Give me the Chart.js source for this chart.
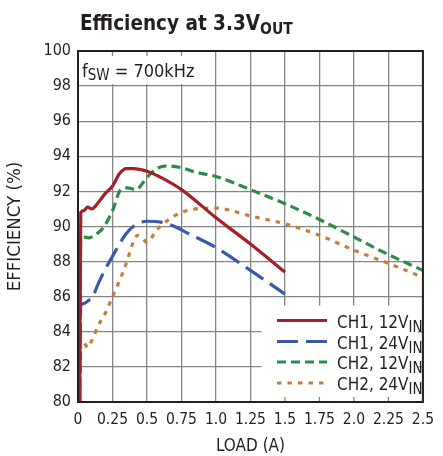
<!DOCTYPE html>
<html>
<head>
<meta charset="utf-8">
<script src="https://cdn.jsdelivr.net/npm/chart.js@4.4.1/dist/chart.umd.min.js"></script>
<style>
  html, body { margin: 0; padding: 0; background: #fff; }
  canvas { display: block; }
</style>
</head>
<body>
<canvas id="chart" width="443" height="456"></canvas>
<script>
// values (load in A, efficiency in %)
const ch1_12vLoad = [0.012, 0.02, 0.04, 0.07, 0.1, 0.15, 0.2, 0.25, 0.3, 0.35, 0.4, 0.5, 0.6, 0.75, 1.0, 1.25, 1.5]
const ch1_12vEff  = [80.0, 90.8, 90.9, 91.1, 91.0, 91.4, 91.9, 92.3, 93.0, 93.3, 93.3, 93.15, 92.8, 92.1, 90.5, 89.0, 87.4]

const ch1_24vLoad = [0.012, 0.02, 0.04, 0.08, 0.1, 0.15, 0.2, 0.25, 0.3, 0.35, 0.4, 0.5, 0.6, 0.7, 0.8, 1.0, 1.25, 1.5]
const ch1_24vEff  = [80.0, 85.5, 85.6, 85.8, 85.9, 86.8, 87.6, 88.3, 89.0, 89.6, 90.0, 90.3, 90.25, 90.0, 89.6, 88.8, 87.5, 86.15]

const ch2_12vLoad = [0.012, 0.02, 0.05, 0.08, 0.12, 0.18, 0.25, 0.31, 0.36, 0.42, 0.5, 0.57, 0.65, 0.75, 0.85, 1.0, 1.25, 1.5, 1.75, 2.0, 2.25, 2.5]
const ch2_12vEff  = [80.0, 89.4, 89.4, 89.35, 89.5, 89.9, 90.9, 92.1, 92.2, 92.1, 92.8, 93.3, 93.45, 93.35, 93.1, 92.85, 92.1, 91.3, 90.4, 89.4, 88.4, 87.5]

const ch2_24vLoad = [0.012, 0.02, 0.04, 0.07, 0.1, 0.15, 0.2, 0.25, 0.3, 0.35, 0.4, 0.43, 0.47, 0.5, 0.57, 0.65, 0.75, 0.85, 1.0, 1.25, 1.5, 1.75, 2.0, 2.25, 2.5]
const ch2_24vEff  = [80.0, 83.3, 83.4, 83.1, 83.5, 84.4, 85.1, 86.0, 86.9, 87.9, 89.1, 89.5, 89.3, 89.1, 89.8, 90.35, 90.8, 91.0, 91.05, 90.6, 90.15, 89.5, 88.65, 87.9, 87.1]

const xTickLabels = ['0', '0.25', '0.5', '0.75', '1.0', '1.25', '1.5', '1.75', '2.0', '2.25', '2.5']
const legendMain = ['CH1, 12V', 'CH1, 24V', 'CH2, 12V', 'CH2, 24V']
const legendSub = 'IN'

const FONT = "'DejaVu Sans Condensed', 'Liberation Sans Narrow', sans-serif"
const INK = '#231f20'
const GRID = '#858585'

function points(xs, ys) {
  return xs.map((x, i) => ({ x: x, y: ys[i] }))
}

// text with a subscript after it, drawn left-aligned from x
function drawSub(ctx, main, sub, x, y, size, subSize, drop, weight) {
  ctx.font = weight + ' ' + size + 'px ' + FONT
  ctx.textAlign = 'left'
  ctx.textBaseline = 'alphabetic'
  ctx.fillText(main, x, y)
  let w = ctx.measureText(main).width
  ctx.font = weight + ' ' + subSize + 'px ' + FONT
  ctx.fillText(sub, x + w, y + drop)
  return w + ctx.measureText(sub).width
}

const decorations = {
  id: 'decorations',
  beforeDatasetsDraw(chart) {
    const ctx = chart.ctx
    const xs = chart.scales.x, ys = chart.scales.y
    ctx.save()
    ctx.fillStyle = '#fff'
    // white boxes behind the note and the legend
    ctx.fillRect(xs.getPixelForValue(0) + 1, ys.getPixelForValue(100) + 1, xs.getPixelForValue(0.87) - xs.getPixelForValue(0), ys.getPixelForValue(98) - ys.getPixelForValue(100) - 3)
    ctx.fillRect(xs.getPixelForValue(1.33), ys.getPixelForValue(85.5), xs.getPixelForValue(2.5) - xs.getPixelForValue(1.33) - 1, ys.getPixelForValue(80) - ys.getPixelForValue(85.5) - 1)
    // short tick stubs left on the frame inside the boxes
    ctx.strokeStyle = GRID
    ctx.lineWidth = 1.3
    ctx.beginPath()
    for (const v of [0.25, 0.5, 0.75]) {
      const px = xs.getPixelForValue(v)
      ctx.moveTo(px, ys.getPixelForValue(100)); ctx.lineTo(px, ys.getPixelForValue(100) + 5)
    }
    for (const v of [1.5, 1.75, 2.0, 2.25]) {
      const px = xs.getPixelForValue(v)
      ctx.moveTo(px, ys.getPixelForValue(80)); ctx.lineTo(px, ys.getPixelForValue(80) - 5)
    }
    for (const v of [82, 84]) {
      const py = ys.getPixelForValue(v)
      ctx.moveTo(xs.getPixelForValue(2.5), py); ctx.lineTo(xs.getPixelForValue(2.5) - 5, py)
    }
    ctx.stroke()
    ctx.restore()
  },
  afterDatasetsDraw(chart) {
    const ctx = chart.ctx
    const a = chart.chartArea
    ctx.save()
    // frame
    ctx.strokeStyle = INK
    ctx.lineWidth = 2
    ctx.strokeRect(a.left, a.top, a.right - a.left, a.bottom - a.top)

    ctx.fillStyle = INK
    // chart title
    drawSub(ctx, 'Efficiency at 3.3V', 'OUT', 80, 30, 20.5, 15.5, 4, 'bold')
    // switching frequency note
    let w = drawSub(ctx, 'f', 'SW', 82, 77, 18, 15, 3, 'normal')
    ctx.font = 'normal 18px ' + FONT
    ctx.fillText(' = 700kHz', 82 + w, 77)

    // legend
    const rowY = [320.5, 341.5, 362, 383]
    chart.data.datasets.forEach((ds, i) => {
      ctx.save()
      ctx.strokeStyle = ds.borderColor
      ctx.lineWidth = ds.borderWidth
      ctx.setLineDash(ds.borderDash || [])
      ctx.beginPath()
      ctx.moveTo(277, rowY[i])
      ctx.lineTo(327, rowY[i])
      ctx.stroke()
      ctx.restore()
      drawSub(ctx, legendMain[i], legendSub, 337, rowY[i] + 7, 17, 15, 4, 'normal')
    })
    ctx.restore()
  }
}

new Chart(document.getElementById('chart'), {
  type: 'line',
  data: {
    datasets: [
      {
        label: 'CH1, 12VIN',
        data: points(ch1_12vLoad, ch1_12vEff),
        borderColor: '#a3202a',
        borderWidth: 3.2,
        pointRadius: 0,
        cubicInterpolationMode: 'monotone'
      },
      {
        label: 'CH1, 24VIN',
        data: points(ch1_24vLoad, ch1_24vEff),
        borderColor: '#3a5aa8',
        borderWidth: 3.2,
        borderDash: [21, 8],
        pointRadius: 0,
        cubicInterpolationMode: 'monotone'
      },
      {
        label: 'CH2, 12VIN',
        data: points(ch2_12vLoad, ch2_12vEff),
        borderColor: '#2b8c4a',
        borderWidth: 3.2,
        borderDash: [9, 5],
        pointRadius: 0,
        cubicInterpolationMode: 'monotone'
      },
      {
        label: 'CH2, 24VIN',
        data: points(ch2_24vLoad, ch2_24vEff),
        borderColor: '#c67c3a',
        borderWidth: 3.2,
        borderDash: [4.5, 6],
        pointRadius: 0,
        cubicInterpolationMode: 'monotone'
      }
    ]
  },
  options: {
    responsive: false,
    animation: false,
    layout: {
      padding: { top: 51, right: 13, bottom: 0, left: 0 }
    },
    plugins: {
      legend: { display: false },
      tooltip: { enabled: false }
    },
    scales: {
      x: {
        type: 'linear',
        min: 0,
        max: 2.5,
        afterFit: (scale) => { scale.height = 54 },
        border: { display: false },
        grid: { color: GRID, lineWidth: 1.3, drawTicks: false },
        ticks: {
          stepSize: 0.25,
          padding: 9,
          color: INK,
          font: { family: FONT, size: 15.5 },
          maxRotation: 0,
          autoSkip: false,
          callback: (v, i) => xTickLabels[i]
        },
        title: {
          display: true,
          text: 'LOAD (A)',
          color: INK,
          font: { family: FONT, size: 17, lineHeight: 1 },
          padding: { top: 0, bottom: 1 }
        }
      },
      y: {
        min: 80,
        max: 100,
        afterFit: (scale) => { scale.width = 78 },
        border: { display: false },
        grid: { color: GRID, lineWidth: 1.3, drawTicks: false },
        ticks: {
          stepSize: 2,
          padding: 7,
          color: INK,
          font: { family: FONT, size: 16 }
        },
        title: {
          display: true,
          text: 'EFFICIENCY (%)',
          color: INK,
          font: { family: FONT, size: 18.5, lineHeight: 1 },
          padding: { top: 6, bottom: 0 }
        }
      }
    }
  },
  plugins: [decorations]
})
</script>
</body>
</html>
